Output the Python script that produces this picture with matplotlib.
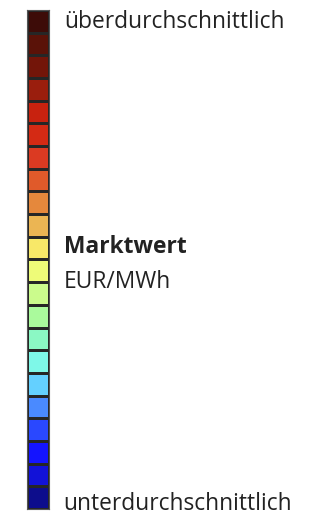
import numpy as np
import matplotlib.pyplot as plt
from matplotlib.colors import ListedColormap

# colour steps, bottom (unterdurchschnittlich) to top (überdurchschnittlich)
step_colors = ['#0d0d8c', '#1212d8', '#1414ff', '#2a48ff', '#4a8aff', '#64d0ff',
               '#7ef8e8', '#8bf8c4', '#aafa9c', '#cbfb8c', '#eefb78', '#f8e868',
               '#ebb553', '#e5883c', '#e05a2a', '#db3a22', '#d42a14', '#c8220f',
               '#9a1e0d', '#731509', '#5a1208', '#3d0c08']
step_values = np.arange(len(step_colors))

label_top = 'überdurchschnittlich'
label_bottom = 'unterdurchschnittlich'
title = 'Marktwert'
unit = 'EUR/MWh'

plt.rcParams['font.family'] = ['Open Sans', 'DejaVu Sans']
text_color = '#222222'

fig = plt.figure(figsize=(3.09, 5.15), dpi=100)
ax = fig.add_axes([0.0864, 0.0117, 0.073, 0.969])

n = len(step_colors)
cmap = ListedColormap(step_colors)
ax.pcolormesh([0, 1], np.arange(n + 1), step_values[:, None], cmap=cmap,
              vmin=-0.5, vmax=n - 0.5, edgecolor='#262626', linewidth=0.75)
ax.set_xlim(0, 1)
ax.set_ylim(0, n)
ax.set_xticks([])
ax.set_yticks([])
for s in ax.spines.values():
    s.set_color('#555555')
    s.set_linewidth(0.8)

fs = 16.4
fig.text(0.207, 0.945, label_top, fontsize=fs, color=text_color, va='baseline')
fig.text(0.204, 0.009, label_bottom, fontsize=fs, color=text_color, va='baseline')
fig.text(0.207, 0.508, title, fontsize=fs, fontweight='bold', color=text_color, va='baseline')
fig.text(0.207, 0.440, unit, fontsize=fs, color=text_color, va='baseline')

fig.savefig('out.png', dpi=100)
